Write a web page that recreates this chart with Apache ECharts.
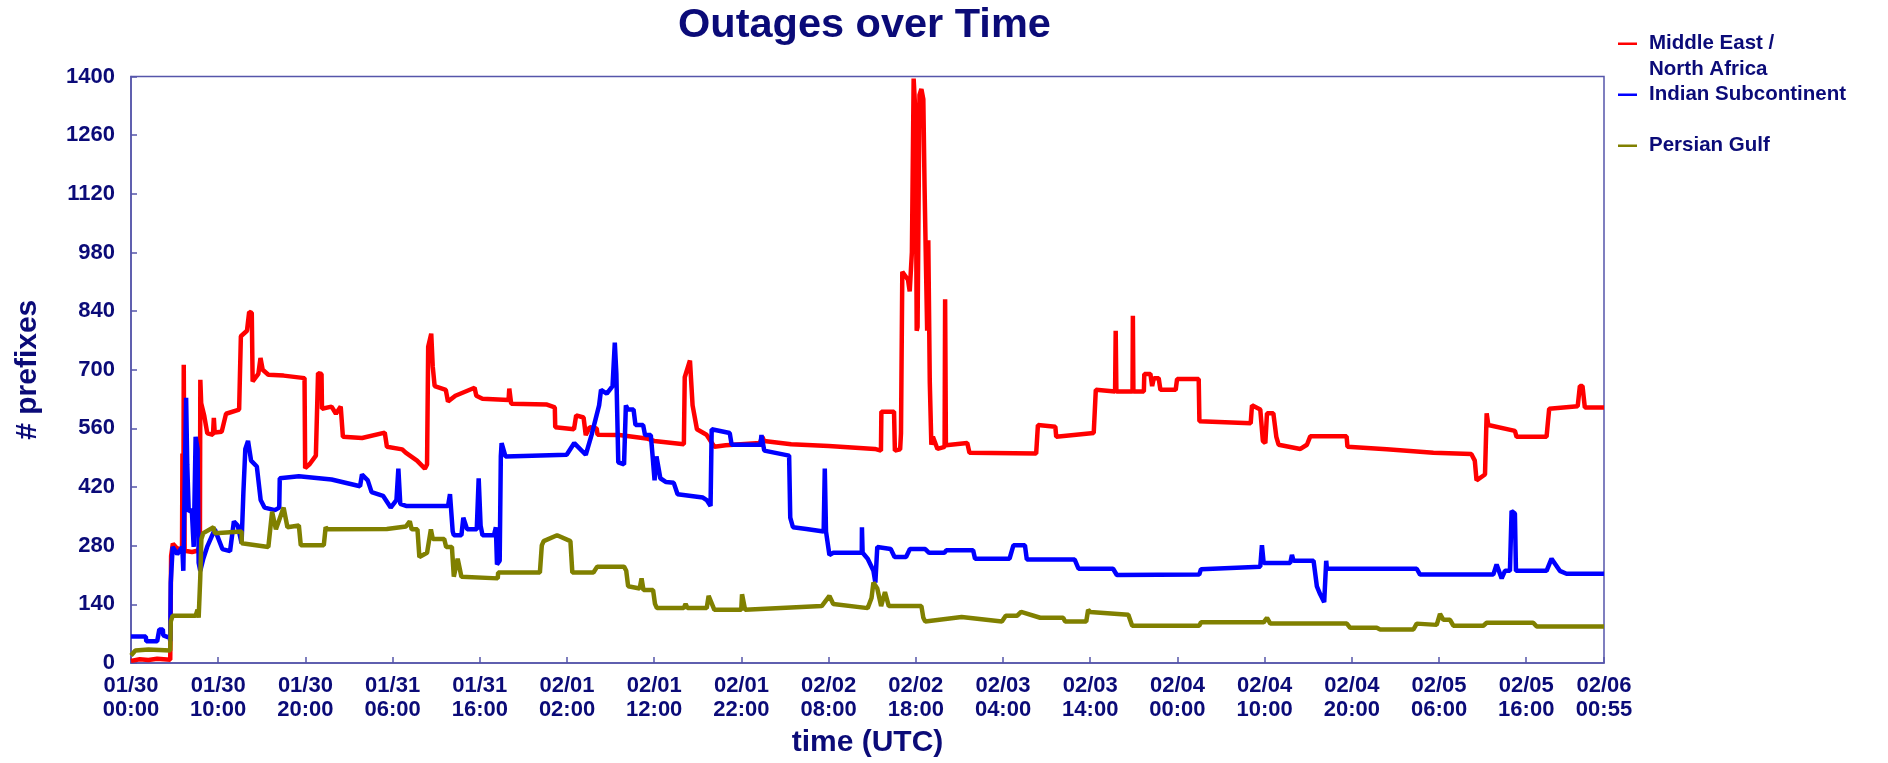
<!DOCTYPE html>
<html>
<head>
<meta charset="utf-8">
<title>Outages over Time</title>
<script src="https://cdn.jsdelivr.net/npm/echarts@6/dist/echarts.min.js"></script>
<style>
  html, body { margin: 0; padding: 0; background: #ffffff; }
  #chart1 { width: 1888px; height: 763px; }
</style>
</head>
<body>
<div id="chart1"></div>
<script>
// hours since 01/30 00:00 UTC, # prefixes
var menaData = [
  [0, 5], [1, 9], [2, 7], [3, 10], [4.5, 8],
  [4.6, 255], [4.8, 285], [5.2, 275], [5.85, 270], [5.9, 500], [6.0, 270], [6.05, 712], [6.15, 268],
  [7.0, 265], [7.6, 268], [7.9, 275], [7.95, 676], [8.05, 620], [8.4, 590], [8.75, 548], [9.4, 545],
  [9.5, 585], [9.6, 550], [10.4, 552], [10.9, 595], [12.4, 605], [12.6, 780], [13.3, 793], [13.55, 838],
  [13.85, 836], [13.95, 672], [14.6, 690], [14.85, 728], [15.1, 700], [15.75, 688], [17.5, 686],
  [19.9, 680], [19.97, 465], [20.5, 475], [21.2, 495], [21.45, 692], [21.85, 690], [21.9, 607],
  [23.0, 612], [23.5, 595], [24.05, 612], [24.3, 540], [26.5, 537], [29.1, 550], [29.35, 516],
  [31.1, 510], [31.5, 502], [32.8, 483], [33.7, 464], [33.95, 474], [34.08, 755], [34.43, 786],
  [34.6, 708], [34.82, 661], [36.1, 652], [36.35, 624], [37.2, 638], [39.4, 657], [39.6, 638],
  [40.3, 631], [43.3, 628], [43.38, 655], [43.6, 619], [47.7, 617], [48.6, 610], [48.65, 563],
  [50.8, 558], [51.05, 591], [51.9, 586], [52.15, 544], [52.6, 563], [53.4, 560], [53.5, 545],
  [56, 544], [59.1, 536], [60.0, 530], [63.4, 522], [63.5, 682], [64.1, 722], [64.4, 615],
  [64.9, 558], [66.0, 545], [66.9, 516], [68.2, 520], [72.1, 525], [72.4, 540], [72.6, 530],
  [75.7, 522], [80, 518], [85.3, 511], [86.0, 507], [86.05, 600], [87.5, 600], [87.6, 507],
  [88.2, 510], [88.3, 549], [88.45, 934], [89.1, 915], [89.3, 887], [89.55, 981], [89.75, 1395],
  [89.98, 1300], [90.1, 793], [90.2, 802], [90.42, 1356], [90.64, 1370], [90.86, 1346], [91.0, 1140],
  [91.16, 952], [91.3, 793], [91.43, 1009], [91.6, 671], [91.78, 521], [91.96, 540], [92.48, 511],
  [93.3, 516], [93.36, 868], [93.45, 520], [95.9, 525], [96.15, 502], [103.8, 500], [104.0, 568],
  [106.0, 564], [106.1, 540], [110.4, 549], [110.64, 652], [112.85, 648], [112.92, 793], [113.0, 648],
  [114.85, 648], [114.89, 829], [114.95, 648], [116.15, 648], [116.2, 690], [116.9, 690], [117.1, 661],
  [117.3, 680], [117.85, 680], [118.05, 652], [119.8, 652], [119.96, 678], [122.44, 678], [122.52, 577],
  [128.4, 572], [128.55, 615], [129.5, 605], [129.8, 530], [130.08, 525], [130.27, 596], [131.0, 596],
  [131.34, 540], [131.6, 521], [134.1, 511], [134.85, 521], [135.23, 541], [139.4, 541], [139.5, 516],
  [144, 510], [149.35, 502], [153.7, 499], [154.1, 483], [154.3, 436], [155.27, 450], [155.46, 596],
  [155.65, 568], [158.7, 554], [158.89, 540], [162.33, 540], [162.63, 607], [165.9, 613], [166.15, 661],
  [166.45, 661], [166.72, 610], [168.92, 610]
];

var indianData = [
  [0, 63], [1.7, 63], [1.75, 52], [3.0, 52], [3.25, 80], [3.65, 80], [3.7, 66], [4.45, 60], [4.5, 52],
  [4.56, 192], [4.78, 277], [5.3, 260], [5.88, 277], [6.0, 220], [6.32, 633], [6.45, 474], [6.62, 361],
  [6.97, 366], [7.19, 277], [7.41, 540], [7.63, 511], [7.76, 239], [7.94, 220], [8.29, 249], [8.73, 277],
  [9.61, 319], [10.48, 272], [11.36, 267], [11.8, 338], [12.24, 328], [12.68, 286], [12.89, 408],
  [13.11, 511], [13.42, 530], [13.77, 483], [14.43, 469], [14.87, 389], [15.31, 371], [16.5, 365],
  [17.0, 371], [17.06, 441], [19.25, 446], [23, 438], [26.27, 422], [26.49, 450], [27.15, 436],
  [27.59, 408], [28.9, 399], [29.78, 371], [30.44, 389], [30.66, 464], [30.88, 380], [31.54, 375],
  [36.36, 375], [36.58, 403], [36.89, 314], [37.02, 305], [37.89, 305], [38.11, 347], [38.55, 319],
  [39.65, 319], [39.87, 441], [40.09, 328], [40.31, 305], [41.62, 305], [41.84, 324], [41.97, 235],
  [42.28, 244], [42.41, 493], [42.5, 525], [42.94, 493], [46, 495], [49.96, 497], [50.83, 525],
  [52.15, 497], [52.81, 544], [53.68, 615], [53.9, 652], [54.56, 643], [55.22, 661], [55.48, 765],
  [55.66, 690], [55.88, 479], [56.54, 474], [56.75, 615], [56.97, 605], [57.63, 605], [57.85, 568],
  [58.73, 568], [58.95, 544], [59.61, 544], [59.82, 493], [60.04, 436], [60.26, 493], [60.7, 441],
  [61.36, 432], [62.24, 430], [62.68, 403], [65.58, 395], [66.02, 389], [66.46, 375], [66.59, 558],
  [68.66, 549], [68.88, 521], [72.18, 521], [72.3, 544], [72.62, 507], [75.47, 495], [75.6, 347],
  [75.91, 324], [77.45, 320], [79.43, 314], [79.56, 464], [79.7, 314], [79.87, 310], [80.09, 258],
  [80.53, 263], [83.8, 263], [83.82, 324], [83.9, 263], [84.48, 249], [85.14, 220], [85.36, 192],
  [85.58, 277], [87.12, 272], [87.56, 253], [88.88, 253], [89.32, 272], [91.08, 272], [91.52, 263],
  [93.27, 263], [93.49, 269], [96.57, 269], [96.79, 249], [100.75, 249], [101.19, 281], [102.51, 281],
  [102.73, 247], [108.22, 247], [108.66, 225], [112.62, 225], [113.05, 210], [122.5, 211], [122.7, 224],
  [129.5, 230], [129.69, 281], [129.89, 239], [132.94, 239], [133.13, 258], [133.32, 244], [135.61, 244],
  [135.99, 183], [136.37, 164], [136.83, 145], [137.06, 244], [137.14, 225], [147.44, 225], [147.82, 211],
  [156.22, 211], [156.6, 235], [157.18, 202], [157.56, 220], [158.13, 220], [158.32, 363], [158.7, 357],
  [158.82, 220], [162.33, 220], [162.9, 249], [163.85, 220], [164.62, 213], [168.92, 213]
];

var gulfData = [
  [0, 18], [0.5, 30], [2, 32], [4.5, 30],
  [4.56, 99], [4.78, 113], [7.41, 113], [7.63, 127], [7.76, 108], [7.94, 202], [8.07, 296], [8.29, 310],
  [9.47, 324], [9.61, 310], [12.68, 314], [12.7, 286], [15.75, 277], [16.18, 361], [16.62, 319],
  [17.5, 371], [17.94, 324], [19.25, 328], [19.47, 281], [22.11, 281], [22.32, 324], [22.54, 319],
  [29.34, 320], [31.54, 326], [31.97, 338], [32.19, 319], [32.85, 319], [33.07, 253], [33.95, 263],
  [34.39, 319], [34.61, 296], [35.92, 296], [36.14, 277], [36.8, 277], [37.02, 206], [37.46, 249],
  [37.89, 206], [38.11, 202], [42.06, 202], [42.1, 216], [46.89, 216], [47.11, 281], [47.32, 291],
  [48.86, 305], [50.39, 291], [50.61, 216], [53.03, 216], [53.46, 230], [56.54, 230], [56.79, 220],
  [57.01, 183], [58.33, 178], [58.55, 202], [58.77, 174], [59.87, 174], [60.09, 141], [60.31, 131],
  [63.38, 131], [63.6, 141], [63.82, 131], [66.02, 131], [66.24, 160], [66.9, 127], [69.98, 127],
  [70.07, 164], [70.42, 127], [79.21, 136], [80.09, 160], [80.53, 141], [84.48, 131], [84.92, 155],
  [85.14, 192], [85.58, 178], [86.02, 136], [86.46, 169], [86.9, 136], [90.64, 136], [90.86, 108],
  [91.08, 99], [95.25, 110], [99.87, 99], [100.31, 113], [101.63, 113], [102.07, 122], [104.26, 108],
  [106.9, 108], [107.12, 99], [109.54, 99], [109.76, 127], [109.98, 122], [114.37, 115], [114.81, 89],
  [122.5, 89], [122.7, 97], [129.89, 97], [130.27, 108], [130.65, 94], [139.43, 94], [139.81, 84],
  [142.86, 84], [143.24, 80], [147.06, 80], [147.44, 94], [149.73, 91], [150.11, 117], [150.5, 103],
  [151.26, 103], [151.64, 89], [155.08, 89], [155.46, 96], [160.8, 96], [161.2, 87], [168.92, 87]
];

var seriesNames = ['Middle East / North Africa', 'Indian Subcontinent', 'Persian Gulf'];
var seriesColors = ['#ff0000', '#0000ff', '#808000'];

var navy = '#0b0b78';
var axisColor = '#5656aa';
var font = "'Liberation Sans', Arial, Helvetica, sans-serif";

function pad(n) { return (n < 10 ? '0' : '') + n; }
function hourLabel(h) {
  var totalMin = Math.round(h * 60);
  var dayOff = Math.floor(totalMin / 1440);
  var minOfDay = totalMin - dayOff * 1440;
  var day = 30 + dayOff, month = 1;
  if (day > 31) { day -= 31; month = 2; }
  return pad(month) + '/' + pad(day) + '\n' + pad(Math.floor(minOfDay / 60)) + ':' + pad(minOfDay % 60);
}

function legendAt(idx, top, label) {
  return {
    data: [seriesNames[idx]],
    left: 1618,
    top: top,
    orient: 'vertical',
    padding: 0,
    icon: 'rect',
    itemWidth: 19,
    itemHeight: 2.5,
    selectedMode: false,
    formatter: function (name) { return label || name; },
    textStyle: {
      color: navy, fontSize: 20.5, fontWeight: 'bold', fontFamily: font,
      lineHeight: 25.5, padding: [0, 0, 0, 7]
    }
  };
}

var dom = document.getElementById('chart1');
var myChart = echarts.init(dom, null, { renderer: 'canvas' });

var option = {
  animation: false,
  backgroundColor: '#ffffff',
  title: {
    text: 'Outages over Time',
    left: 678,
    top: 5,
    padding: 0,
    textStyle: { color: navy, fontSize: 41.5, fontWeight: 'bold', fontFamily: font }
  },
  legend: [
    legendAt(0, 5.5, ' \nMiddle East /\nNorth Africa'),
    legendAt(1, 82),
    legendAt(2, 133)
  ],
  grid: {
    left: 131,
    right: 284,
    top: 76.5,
    bottom: 96,
    show: true,
    borderColor: axisColor,
    borderWidth: 1.5,
    containLabel: false
  },
  xAxis: {
    type: 'value',
    min: 0,
    max: 168 + 55 / 60,
    interval: 10,
    name: 'time (UTC)',
    nameLocation: 'middle',
    nameGap: 65,
    nameTextStyle: { color: navy, fontSize: 30, fontWeight: 'bold', fontFamily: font },
    axisLine: { show: true, lineStyle: { color: axisColor, width: 1.5 } },
    axisTick: { show: true, inside: true, length: 6, lineStyle: { color: axisColor, width: 1.5 } },
    splitLine: { show: false },
    axisLabel: {
      color: navy, fontSize: 22, fontWeight: 'bold', fontFamily: font,
      lineHeight: 24, margin: 11,
      formatter: hourLabel
    }
  },
  yAxis: {
    type: 'value',
    min: 0,
    max: 1400,
    interval: 140,
    name: '# prefixes',
    nameLocation: 'middle',
    nameGap: 88,
    nameTextStyle: { color: navy, fontSize: 30, fontWeight: 'bold', fontFamily: font },
    axisLine: { show: true, lineStyle: { color: axisColor, width: 1.5 } },
    axisTick: { show: true, inside: true, length: 6, lineStyle: { color: axisColor, width: 1.5 } },
    splitLine: { show: false },
    axisLabel: {
      color: navy, fontSize: 22, fontWeight: 'bold', fontFamily: font, margin: 16,
      formatter: function (v) { return String(v); }
    }
  },
  series: [
    { name: seriesNames[0], type: 'line', data: menaData },
    { name: seriesNames[1], type: 'line', data: indianData },
    { name: seriesNames[2], type: 'line', data: gulfData }
  ].map(function (s, i) {
    s.showSymbol = false;
    s.symbol = 'none';
    s.color = seriesColors[i];
    s.lineStyle = { color: seriesColors[i], width: 4.5 };
    return s;
  })
};

if (option && typeof option === 'object') {
  myChart.setOption(option);
}

window.addEventListener('resize', myChart.resize);
</script>
</body>
</html>
